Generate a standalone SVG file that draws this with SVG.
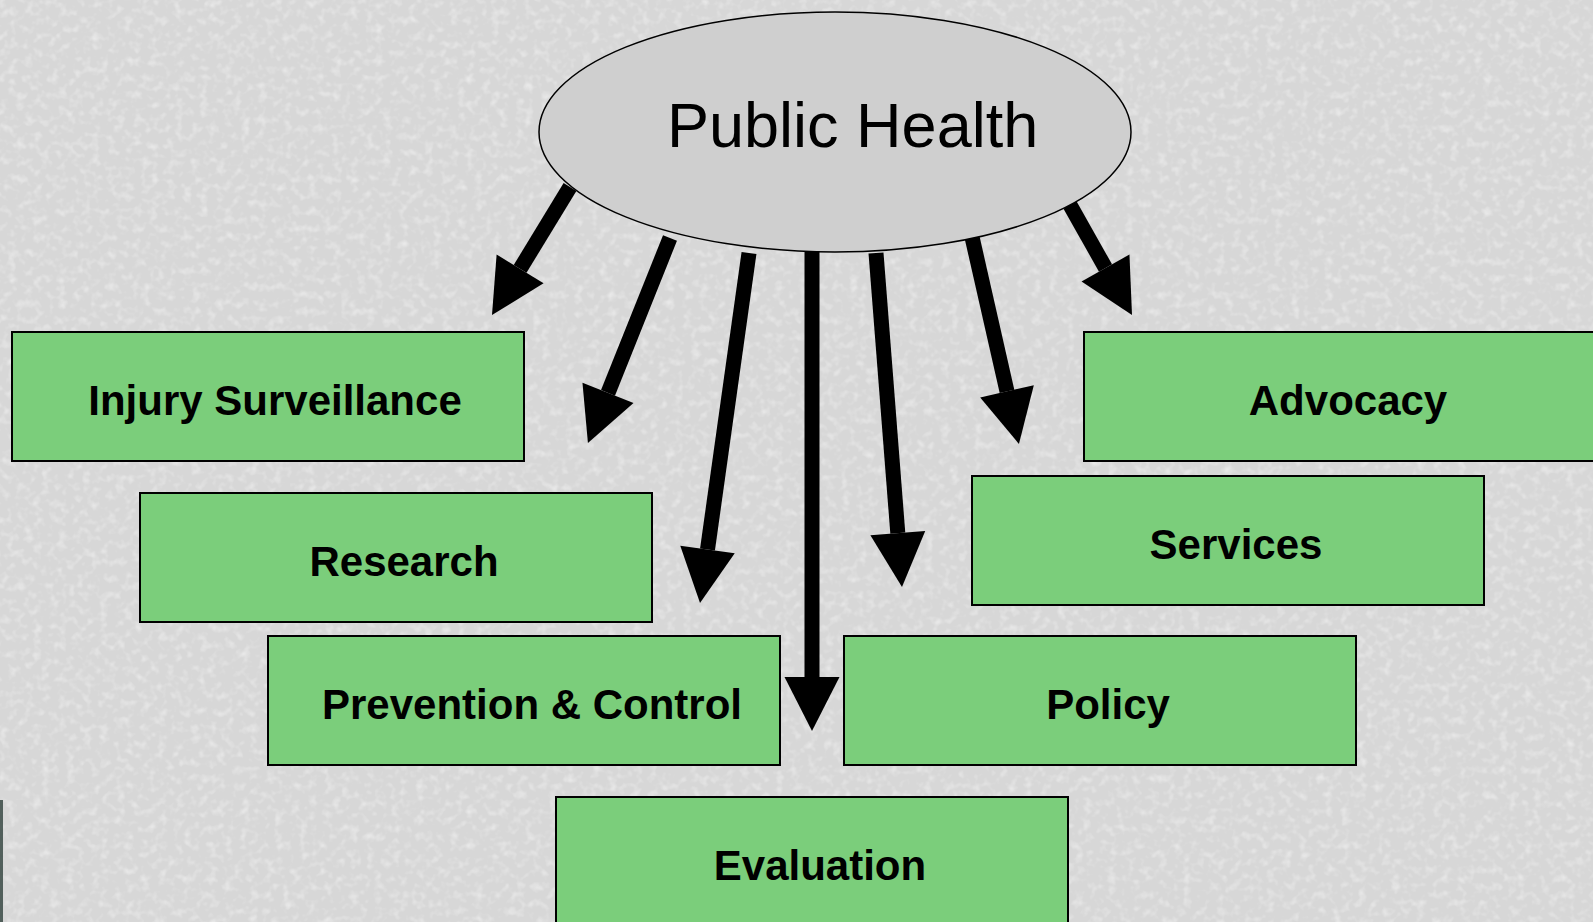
<svg xmlns="http://www.w3.org/2000/svg" width="1593" height="922" viewBox="0 0 1593 922">
  <style>
    .box { fill: #7bce7b; stroke: #000; stroke-width: 2; }
    .lbl { font-family: "Liberation Sans", Arial, sans-serif; font-weight: bold; font-size: 42px; fill: #000; text-anchor: middle; }
    .title { font-family: "Liberation Sans", Arial, sans-serif; font-size: 63px; fill: #000; }
    .conn { stroke: #000; stroke-width: 15; fill: none; marker-end: url(#head); }
  </style>
  <defs>
    <marker id="head" markerUnits="userSpaceOnUse" markerWidth="60" markerHeight="60" refX="0" refY="27.5" orient="auto" overflow="visible">
      <path d="M0,0 L54,27.5 L0,55 Z" fill="#000"/>
    </marker>
    <filter id="grain" x="0" y="0" width="100%" height="100%">
      <feTurbulence type="fractalNoise" baseFrequency="0.12" numOctaves="2" seed="11" result="n"/>
      <feColorMatrix in="n" type="matrix" values="0 0 0 0 1  0 0 0 0 1  0 0 0 0 1  2.2 0 0 0 -1.05"/>
    </filter>
  </defs>

  <g id="background">
    <rect x="0" y="0" width="1593" height="922" fill="#d7d7d7"/>
    <rect x="0" y="0" width="1593" height="922" filter="url(#grain)" opacity="0.45"/>
    <rect x="0" y="800" width="3" height="122" fill="#3a4a45" opacity="0.85"/>
  </g>

  <g id="connectors">
    <line class="conn" x1="570" y1="187" x2="520.1" y2="268.9"/>
    <line class="conn" x1="670" y1="238" x2="608.0" y2="392.9"/>
    <line class="conn" x1="749" y1="253" x2="707.5" y2="549.5"/>
    <line class="conn" x1="812" y1="252" x2="812" y2="677"/>
    <line class="conn" x1="876" y1="253" x2="897.8" y2="533.2"/>
    <line class="conn" x1="972" y1="237" x2="1007.0" y2="391.3"/>
    <line class="conn" x1="1070" y1="205" x2="1105.5" y2="268.0"/>
  </g>

  <g id="public-health">
    <ellipse cx="835" cy="132" rx="296" ry="120" fill="#cfcfcf" stroke="#000" stroke-width="1.5"/>
    <text class="title" x="667" y="147">Public Health</text>
  </g>

  <g id="injury-surveillance">
    <rect class="box" x="12" y="332" width="512" height="129"/>
    <text class="lbl" x="275" y="415">Injury Surveillance</text>
  </g>
  <g id="research">
    <rect class="box" x="140" y="493" width="512" height="129"/>
    <text class="lbl" x="404" y="576">Research</text>
  </g>
  <g id="prevention-control">
    <rect class="box" x="268" y="636" width="512" height="129"/>
    <text class="lbl" x="532" y="719">Prevention &amp; Control</text>
  </g>
  <g id="evaluation">
    <rect class="box" x="556" y="797" width="512" height="140"/>
    <text class="lbl" x="820" y="880">Evaluation</text>
  </g>
  <g id="policy">
    <rect class="box" x="844" y="636" width="512" height="129"/>
    <text class="lbl" x="1108" y="719">Policy</text>
  </g>
  <g id="services">
    <rect class="box" x="972" y="476" width="512" height="129"/>
    <text class="lbl" x="1236" y="559">Services</text>
  </g>
  <g id="advocacy">
    <rect class="box" x="1084" y="332" width="520" height="129"/>
    <text class="lbl" x="1348" y="415">Advocacy</text>
  </g>
</svg>
